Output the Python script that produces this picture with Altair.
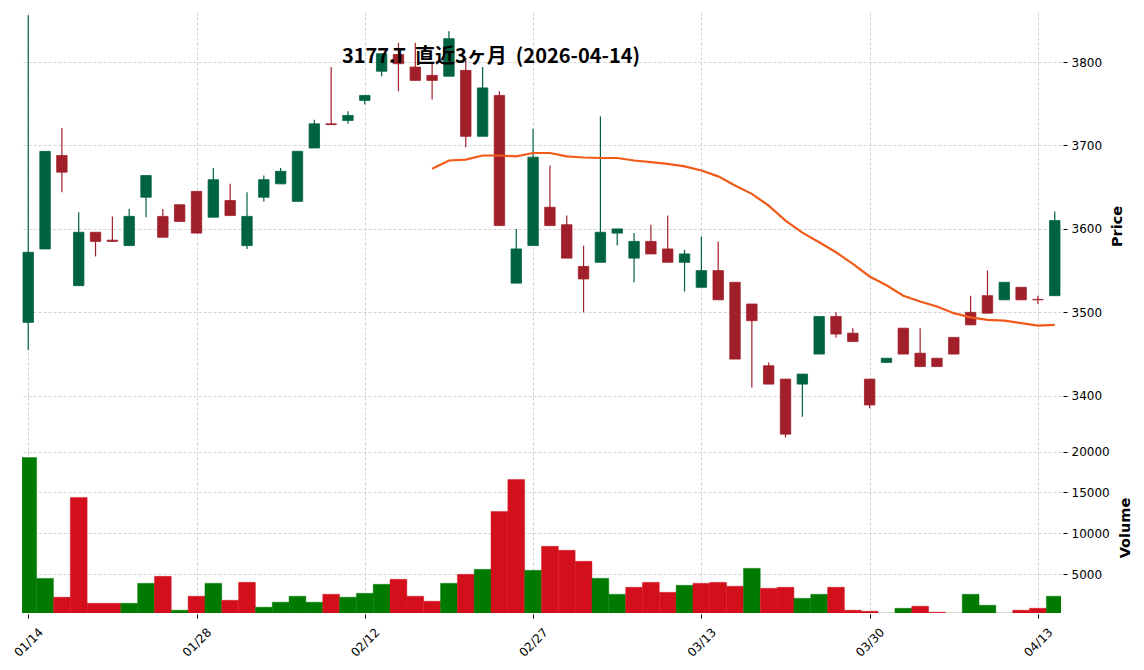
import altair as alt
import pandas as pd

# ---------------- data ----------------
dates = ["01/14", "01/15", "01/16", "01/19", "01/20", "01/21", "01/22", "01/23", "01/26", "01/27",
         "01/28", "01/29", "01/30", "02/02", "02/03", "02/04", "02/05", "02/06", "02/09", "02/10",
         "02/12", "02/13", "02/16", "02/17", "02/18", "02/19", "02/20", "02/24", "02/25", "02/26",
         "02/27", "03/02", "03/03", "03/04", "03/05", "03/06", "03/09", "03/10", "03/11", "03/12",
         "03/13", "03/16", "03/17", "03/18", "03/19", "03/23", "03/24", "03/25", "03/26", "03/27",
         "03/30", "03/31", "04/01", "04/02", "04/03", "04/06", "04/07", "04/08", "04/09", "04/10",
         "04/13", "04/14"]

opens = [3488, 3576, 3688, 3532, 3596, 3586.5, 3580, 3638, 3615, 3629,
         3645, 3614, 3634, 3580, 3638, 3654, 3633, 3697, 3726, 3730,
         3754, 3789, 3809, 3794, 3784, 3783, 3790, 3711, 3760, 3535,
         3580, 3626, 3605, 3555, 3560, 3595, 3565, 3585, 3576, 3560,
         3530, 3550, 3536, 3510, 3436, 3420, 3414, 3450, 3495, 3475,
         3420, 3440, 3481, 3451, 3445, 3470, 3500, 3520, 3515, 3530,
         3515.5, 3520]
highs = [3856, 3693, 3721, 3620, 3596, 3615, 3624, 3664, 3624, 3629,
         3645, 3673, 3654, 3644, 3664, 3673, 3693, 3731, 3794, 3741,
         3760, 3810, 3823, 3823, 3798, 3837, 3805, 3794, 3765, 3600,
         3720, 3676, 3616, 3580, 3735, 3600, 3595, 3605, 3616, 3575,
         3591, 3585, 3536, 3510, 3440, 3420, 3426, 3495, 3500, 3481,
         3420, 3445, 3481, 3481, 3445, 3470, 3520, 3550, 3536, 3530,
         3520, 3621]
lows = [3455, 3576, 3644, 3532, 3567, 3585, 3580, 3614, 3590, 3609,
        3595, 3614, 3616, 3576, 3633, 3654, 3633, 3697, 3725, 3726,
        3749, 3783, 3765, 3778, 3755, 3783, 3698, 3711, 3604, 3535,
        3580, 3604, 3565, 3500, 3560, 3580, 3536, 3570, 3560, 3525,
        3530, 3515, 3444, 3410, 3414, 3350, 3375, 3450, 3470, 3465,
        3385, 3440, 3450, 3435, 3435, 3450, 3485, 3499, 3515, 3515,
        3510, 3520]
closes = [3572, 3693, 3668, 3596, 3585, 3585, 3615, 3664, 3590, 3609,
          3595, 3659, 3616, 3615, 3659, 3669, 3693, 3726, 3725, 3736,
          3760, 3810, 3798, 3778, 3778, 3828, 3711, 3769, 3604, 3576,
          3686, 3604, 3565, 3540, 3596, 3600, 3585, 3570, 3560, 3570,
          3550, 3515, 3444, 3490, 3414, 3354, 3426, 3495, 3474, 3465,
          3389, 3445, 3450, 3435, 3435, 3450, 3485, 3499, 3536, 3515,
          3515, 3610]
volumes = [19270, 4500, 2200, 14400, 1460, 1460, 1460, 3900, 4750, 610,
           2320, 3900, 1830, 4020, 980, 1590, 2320, 1590, 2560, 2200,
           2680, 3780, 4390, 2320, 1710, 3900, 5000, 5610, 12680, 16590,
           5490, 8420, 7930, 6590, 4510, 2560, 3420, 4020, 2800, 3660,
           3900, 4020, 3540, 5730, 3290, 3420, 2070, 2560, 3420, 610,
           490, 0, 850, 1100, 370, 0, 2560, 1220, 0, 610,
           850, 2320]
ma25_start = 24
ma25 = [3672, 3682, 3683, 3688, 3688, 3687, 3691, 3691, 3687, 3685.6,
        3685, 3685, 3682, 3680, 3678, 3675, 3670, 3663, 3652, 3642,
        3628, 3610, 3595.5, 3584, 3572, 3558, 3543, 3532.5, 3520, 3513,
        3507, 3499, 3494, 3491, 3490, 3487, 3484, 3485]

TITLE = "3177.T\u00a0\u00a0直近3ヶ月\u00a0\u00a0(2026-04-14)"
price_ticks = [3400, 3500, 3600, 3700, 3800]
volume_ticks = [5000, 10000, 15000, 20000]
xtick_idx = [0, 10, 20, 30, 40, 50, 60]

# ---------------- styles ----------------
C_UP = "#006340"
C_DOWN = "#a01f2a"
V_UP = "#007a00"
V_DOWN = "#d40f1c"
C_MA = "#f25a1a"
GRID = "#c6c6c6"
FONT = "DejaVu Sans"

n = len(dates)
df = pd.DataFrame({"i": list(range(n)), "date": dates, "open": opens, "high": highs,
                   "low": lows, "close": closes, "volume": volumes})
df["dir"] = ["up" if c >= o else "down" for o, c in zip(opens, closes)]
df["vdir"] = ["up"] + ["up" if c > p else "down" for p, c in zip(closes[:-1], closes[1:])]
df["body_lo"] = df[["open", "close"]].min(axis=1)
df["body_hi"] = df[["open", "close"]].max(axis=1)
df["bx0"] = df["i"] - 0.31
df["bx1"] = df["i"] + 0.31
df["vx0"] = df["i"] - 0.5
df["vx1"] = df["i"] + 0.5

ma_df = pd.DataFrame({"i": list(range(ma25_start, ma25_start + len(ma25))), "ma": ma25})
title_df = pd.DataFrame({"t": [TITLE]})

label_expr = " : ".join(f"datum.value == {k} ? '{dates[k]}'" for k in xtick_idx) + " : ''"

xscale = alt.Scale(domain=[-0.37, 61.37], nice=False, zero=False)
pscale = alt.Scale(domain=[3347, 3860], nice=False, zero=False)
vscale = alt.Scale(domain=[270, 21170], nice=False, zero=False)

grid_props = dict(grid=True, gridColor=GRID, gridDash=[3, 2], gridWidth=0.8)

x_axis_top = alt.Axis(values=xtick_idx, labels=False, ticks=False, domain=False, title=None, **grid_props)
x_axis_bottom = alt.Axis(values=xtick_idx, labelExpr=label_expr, labelAngle=-45, labelAlign="center",
                         labelBaseline="middle", labelPadding=24, tickSize=4, tickColor="black",
                         domain=False, title=None, offset=1, labelFont=FONT, labelFontSize=12,
                         labelColor="black", **grid_props)

def y_axis(values, title):
    return alt.Axis(orient="right", values=values, title=title, tickSize=4, tickColor="black",
                    domain=False, offset=2, labelPadding=4, labelFont=FONT, labelFontSize=12,
                    labelColor="black", titleFont=FONT, titleFontSize=14.5, titleFontWeight="bold",
                    titleColor="black", titleAngle=270, titlePadding=23, format="d", **grid_props)

candle_color = alt.condition("datum.dir == 'up'", alt.value(C_UP), alt.value(C_DOWN))
vol_color = alt.condition("datum.vdir == 'up'", alt.value(V_UP), alt.value(V_DOWN))

base = alt.Chart(df)
wicks = base.mark_rule(strokeWidth=1.2).encode(
    x=alt.X("i:Q", scale=xscale, axis=x_axis_top),
    y=alt.Y("low:Q", scale=pscale, axis=y_axis(price_ticks, "Price")),
    y2="high:Q",
    color=candle_color,
)
bodies = base.mark_bar(strokeWidth=0.8).encode(
    x="bx0:Q", x2="bx1:Q", y="body_lo:Q", y2="body_hi:Q",
    color=candle_color, stroke=candle_color,
)
ma_line = alt.Chart(ma_df).mark_line(color=C_MA, strokeWidth=2.2).encode(x="i:Q", y="ma:Q")
title_txt = alt.Chart(title_df).mark_text(
    font="Noto Sans CJK JP", fontWeight="bold", fontSize=20, color="black",
    align="center", baseline="alphabetic",
).encode(text="t:N", x=alt.value(469), y=alt.value(51))

price = alt.layer(wicks, bodies, ma_line, title_txt).properties(width=1039, height=428)

vol = alt.Chart(df).mark_bar(clip=True, strokeWidth=0.4).encode(
    x=alt.X("vx0:Q", scale=xscale, axis=x_axis_bottom),
    x2="vx1:Q",
    y=alt.Y("volume:Q", scale=vscale, axis=y_axis(volume_ticks, "Volume")),
    y2=alt.datum(270),
    color=vol_color,
    stroke=vol_color,
).properties(width=1039, height=171)

chart = alt.vconcat(price, vol, spacing=2).resolve_scale(x="shared", y="independent").properties(
    padding={"left": 3, "top": 4, "right": 0, "bottom": 0},
    background="white",
).configure_view(strokeWidth=0)

chart.save("out.html", embed_options={"renderer": "svg", "actions": False})
